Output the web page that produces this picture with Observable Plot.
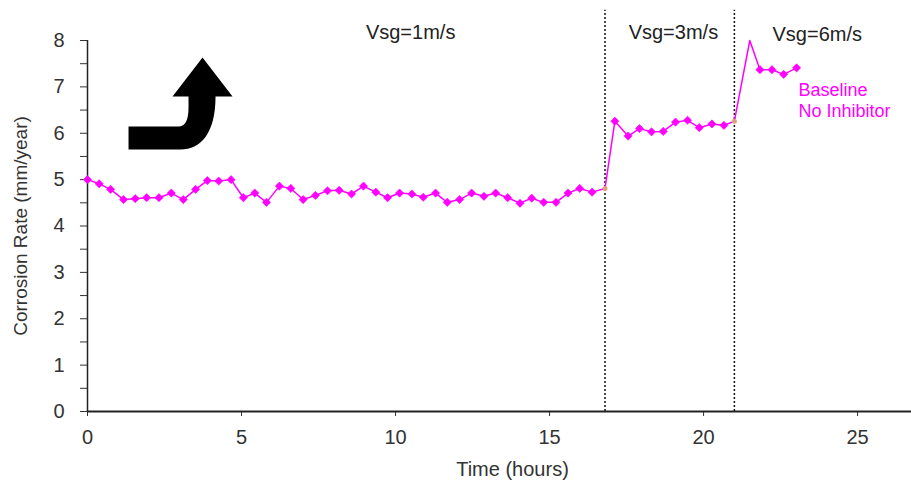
<!DOCTYPE html>
<html>
<head>
<meta charset="utf-8">
<script src="https://cdn.jsdelivr.net/npm/d3@7"></script>
<script src="https://cdn.jsdelivr.net/npm/@observablehq/plot@0.6"></script>
<style>
  html, body { margin: 0; padding: 0; background: #fff; }
  #chart svg { display: block; }
</style>
</head>
<body>
<div id="chart"></div>
<script>
// Time (hours) of each reading, in order
const hours = [0, 0.38, 0.75, 1.17, 1.55, 1.92, 2.32, 2.72, 3.11, 3.51, 3.89, 4.26, 4.66, 5.06, 5.43, 5.81, 6.23, 6.6, 7.0, 7.4, 7.79, 8.17, 8.57, 8.96, 9.36, 9.74, 10.13, 10.53, 10.9, 11.3, 11.68, 12.08, 12.47, 12.87, 13.25, 13.64, 14.04, 14.42, 14.81, 15.21, 15.6, 15.98, 16.38, 16.8,
  17.12, 17.55, 17.92, 18.31, 18.69, 19.09, 19.48, 19.86, 20.27, 20.66, 21.0,
  21.5, 21.83, 22.22, 22.6, 23.02];
// Corrosion rate (mm/year)
const rates = [5.0, 4.91, 4.79, 4.57, 4.59, 4.61, 4.61, 4.71, 4.57, 4.79, 4.98, 4.97, 5.0, 4.61, 4.71, 4.51, 4.86, 4.81, 4.57, 4.66, 4.76, 4.77, 4.69, 4.86, 4.73, 4.61, 4.71, 4.69, 4.62, 4.71, 4.51, 4.57, 4.71, 4.64, 4.71, 4.61, 4.49, 4.6, 4.51, 4.51, 4.71, 4.81, 4.73, 4.81,
  6.26, 5.94, 6.10, 6.03, 6.04, 6.24, 6.28, 6.12, 6.20, 6.17, 6.26,
  8.0, 7.37, 7.37, 7.27, 7.41];
// kind of reading: m = marker, t = transition, p = peak (no marker)
const kinds = [..."m".repeat(43), "t", ..."m".repeat(10), "t", "p", ..."m".repeat(4)];

const velocityChanges = [16.8, 21.0];
const regimeLabels = ["Vsg=1m/s", "Vsg=3m/s", "Vsg=6m/s"];
const regimeLabelX = [10.49, 19.02, 23.69];
const regimeLabelY = [8.17, 8.16, 8.13];
const seriesLabel = ["Baseline", "No Inhibitor"];
const seriesLabelY = [6.93, 6.48];
const xTicks = [0, 5, 10, 15, 20, 25];
const yTicks = [0, 1, 2, 3, 4, 5, 6, 7, 8];
const yMinorTicks = [0.5, 1.5, 2.5, 3.5, 4.5, 5.5, 6.5, 7.5];
const arrowAnchor = [{x: 3.02, y: 6.64}];

const data = hours.map((h, i) => ({h, r: rates[i], k: kinds[i]}));
const regimes = regimeLabels.map((t, i) => ({t, x: regimeLabelX[i], y: regimeLabelY[i]}));
const legend = seriesLabel.map((t, i) => ({t, y: seriesLabelY[i]}));

const magenta = "#ff00ff";
const font = "'Liberation Sans', Arial, sans-serif";

// curved arrow symbol (pixel shape around its anchor)
const arrowSymbol = {
  draw(ctx) {
    ctx.moveTo(-52, 23);
    ctx.lineTo(-2, 23);
    ctx.quadraticCurveTo(8, 23, 8, 4);
    ctx.lineTo(8, -7);
    ctx.lineTo(-8, -7);
    ctx.lineTo(22, -46);
    ctx.lineTo(52, -7);
    ctx.lineTo(35, -7);
    ctx.bezierCurveTo(35, 30, 20, 46, 0, 46);
    ctx.lineTo(-52, 46);
    ctx.closePath();
  }
};

const chart = Plot.plot({
  width: 911,
  height: 480,
  marginLeft: 87,
  marginRight: 0,
  marginTop: 40,
  marginBottom: 69,
  style: {fontFamily: font, background: "#fff", overflow: "visible"},
  x: {domain: [0, 26.75]},
  y: {domain: [0, 8]},
  marks: [
    Plot.axisX({ticks: xTicks, tickSize: 5, tickPadding: 13, fontSize: 20, color: "#333", label: null, tickFormat: d => d}),
    Plot.axisY({ticks: yTicks, tickSize: 7, tickPadding: 16, fontSize: 20, color: "#333", label: null, tickFormat: d => d}),
    Plot.axisY({ticks: yMinorTicks, tickSize: 7, color: "#333", label: null, tickFormat: () => ""}),
    Plot.text(["Time (hours)"], {frameAnchor: "bottom", dy: 58, dx: 13, fontSize: 20, fill: "#333", textAnchor: "middle", lineAnchor: "middle"}),
    Plot.text(["Corrosion Rate (mm/year)"], {frameAnchor: "left", dx: -67, rotate: -90, fontSize: 19, fill: "#333", textAnchor: "middle", lineAnchor: "middle"}),
    Plot.ruleX(velocityChanges, {y1: 0, y2: 8.65, stroke: "#111", strokeWidth: 1.5, strokeDasharray: "2,2"}),
    Plot.ruleY([0], {stroke: "#222", strokeWidth: 2}),
    Plot.ruleX([0], {y1: 0, y2: 8, stroke: "#222", strokeWidth: 1.5}),
    Plot.line(data, {x: "h", y: "r", stroke: magenta, strokeWidth: 1.5}),
    Plot.dot(data.filter(d => d.k === "m"), {x: "h", y: "r", symbol: "diamond2", r: 3.7, fill: magenta, stroke: magenta, strokeWidth: 0.6}),
    Plot.dot(data.filter(d => d.k === "t"), {x: "h", y: "r", r: 2.5, fill: "#e0a080", stroke: "none"}),
    Plot.text(regimes, {x: "x", y: "y", text: "t", fontSize: 20, fill: "#222", textAnchor: "middle"}),
    Plot.text(legend, {x: 23.08, y: "y", text: "t", fontSize: 18, fill: magenta, textAnchor: "start"}),
    Plot.dot(arrowAnchor, {x: "x", y: "y", symbol: arrowSymbol, fill: "#000", stroke: "none"})
  ]
});
document.getElementById("chart").appendChild(chart);
</script>
</body>
</html>
